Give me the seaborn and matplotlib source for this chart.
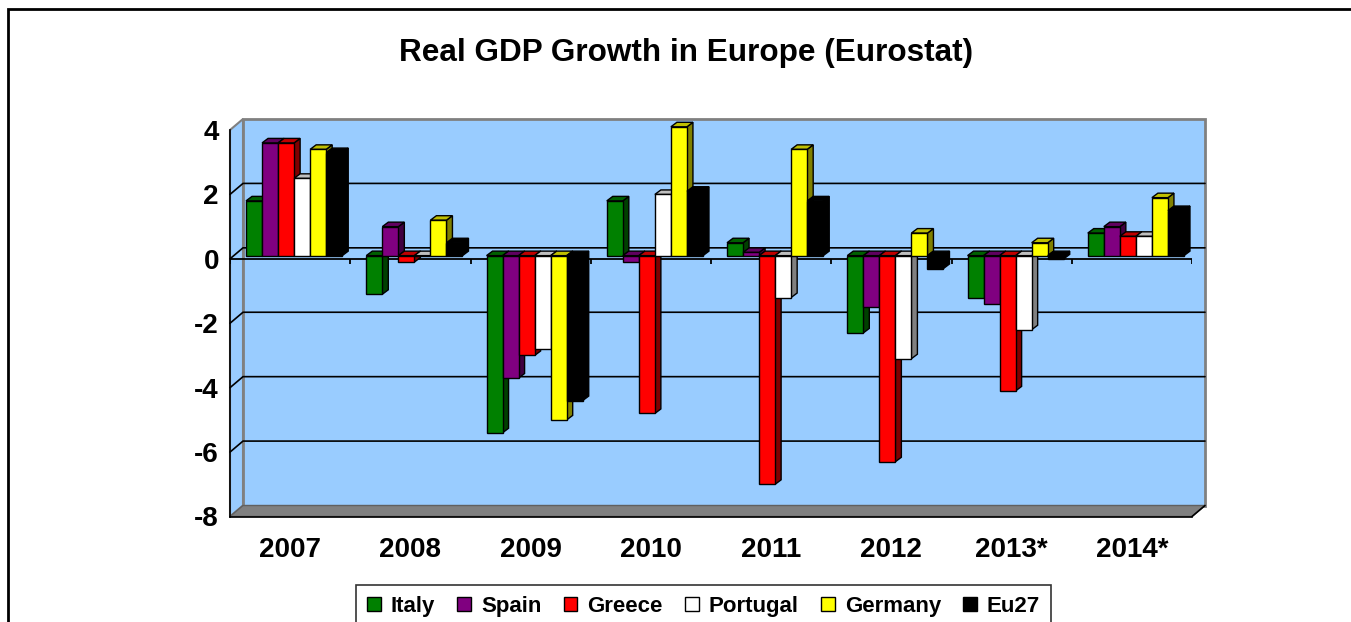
import numpy as np
import pandas as pd
import matplotlib
matplotlib.use("Agg")
import matplotlib.pyplot as plt
import matplotlib.transforms as mtransforms
from matplotlib.patches import Polygon, Rectangle, Patch
from matplotlib.colors import to_rgb
import seaborn as sns

# ---- data -------------------------------------------------------------
years = ["2007", "2008", "2009", "2010", "2011", "2012", "2013*", "2014*"]
countries = ["Italy", "Spain", "Greece", "Portugal", "Germany", "Eu27"]
italy = [1.7, -1.2, -5.5, 1.7, 0.4, -2.4, -1.3, 0.7]
spain = [3.5, 0.9, -3.8, -0.2, 0.1, -1.6, -1.5, 0.9]
greece = [3.5, -0.2, -3.1, -4.9, -7.1, -6.4, -4.2, 0.6]
portugal = [2.4, 0.0, -2.9, 1.9, -1.3, -3.2, -2.3, 0.6]
germany = [3.3, 1.1, -5.1, 4.0, 3.3, 0.7, 0.4, 1.8]
eu27 = [3.2, 0.4, -4.5, 2.0, 1.7, -0.4, -0.1, 1.4]
colors = ["#008000", "#800080", "#FF0000", "#FFFFFF", "#FFFF00", "#000000"]
y_ticks = [-8, -6, -4, -2, 0, 2, 4]
title = "Real GDP Growth in Europe (Eurostat)"

series = [italy, spain, greece, portugal, germany, eu27]
df = pd.DataFrame({
    "year": np.tile(years, len(countries)),
    "country": np.repeat(countries, len(years)),
    "value": np.concatenate(series),
})

# ---- style -------------------------------------------------------------
sns.set_style("white")
plt.rcParams["font.family"] = ["Liberation Sans", "DejaVu Sans"]
plt.rcParams["font.weight"] = "bold"
plt.rcParams["text.color"] = "black"
plt.rcParams["xtick.color"] = "black"
plt.rcParams["ytick.color"] = "black"

W, H, DPI = 1351, 622, 100
fig = plt.figure(figsize=(W / DPI, H / DPI), dpi=DPI)
fig.patch.set_facecolor("white")

# front plane of the 3-D box, in pixels
X0, X1 = 230, 1192
YT, YB = 130, 516.5
ax = fig.add_axes([X0 / W, (H - YB) / H, (X1 - X0) / W, (YB - YT) / H])
ax.patch.set_visible(False)

ymin, ymax = y_ticks[0], y_ticks[-1]
xlo, xhi = -0.5, len(years) - 0.5
ux = (xhi - xlo) / (X1 - X0)      # data units per pixel
uy = (ymax - ymin) / (YB - YT)

WALL_X, WALL_Y = 13 * ux, 11 * uy  # depth of the box
WALL = "#99CCFF"
GREY = "#808080"

# side wall, back wall, floor
ax.add_patch(Polygon([(xlo, ymin), (xlo, ymax), (xlo + WALL_X, ymax + WALL_Y),
                      (xlo + WALL_X, ymin + WALL_Y)], closed=True,
                     fc=WALL, ec=GREY, lw=1.5, zorder=0, clip_on=False))
ax.add_patch(Rectangle((xlo + WALL_X, ymin + WALL_Y), xhi - xlo, ymax - ymin,
                       fc=WALL, ec=GREY, lw=2, zorder=0, clip_on=False))
ax.add_patch(Polygon([(xlo, ymin), (xhi, ymin), (xhi + WALL_X, ymin + WALL_Y),
                      (xlo + WALL_X, ymin + WALL_Y)], closed=True,
                     fc=GREY, ec="#606060", lw=1, zorder=0.5, clip_on=False))
ax.plot([xhi, xhi + WALL_X], [ymin, ymin + WALL_Y], color="black", lw=1.2,
        zorder=0.6, clip_on=False)

# gridlines on the side and back walls
for yv in y_ticks[1:-1]:
    ax.plot([xlo, xlo + WALL_X, xhi + WALL_X], [yv, yv + WALL_Y, yv + WALL_Y],
            color="black", lw=1.2, zorder=1, clip_on=False)

# category axis crossing at zero, with boundary ticks
ax.axhline(0, color="black", lw=1.3, zorder=1.5)
bounds = np.arange(xlo, xhi + 0.01, 1.0)
ax.vlines(bounds, 0, -5 * uy, color="black", lw=1.3, zorder=1.5)

# ---- bars ---------------------------------------------------------------
sns.barplot(data=df, x="year", y="value", hue="country", order=years,
            hue_order=countries, palette=colors, saturation=1, width=0.8,
            edgecolor="black", linewidth=1, ax=ax, legend=False)

shift = ax.transData + mtransforms.ScaledTranslation(4 / DPI, 3.2 / DPI,
                                                     fig.dpi_scale_trans)
BX, BY = 6 * ux, 4.5 * uy   # bar depth


def shade(c, f):
    r, g, b = to_rgb(c)
    return (r * f, g * f, b * f)


for i, cont in enumerate(ax.containers):
    base_z = 10 + 3 * i
    for rect in cont:
        x, w = rect.get_x(), rect.get_width()
        y, h = rect.get_y(), rect.get_height()
        lo, hi = min(y, y + h), max(y, y + h)
        x1 = x + w
        side = Polygon([(x1, lo), (x1, hi), (x1 + BX, hi + BY), (x1 + BX, lo + BY)],
                       closed=True, fc=shade(colors[i], 0.5), ec="black", lw=1,
                       transform=shift, zorder=base_z, clip_on=False)
        top = Polygon([(x, hi), (x1, hi), (x1 + BX, hi + BY), (x + BX, hi + BY)],
                      closed=True, fc=shade(colors[i], 0.75), ec="black", lw=1,
                      transform=shift, zorder=base_z + 1, clip_on=False)
        ax.add_patch(side)
        ax.add_patch(top)
        rect.set_transform(shift)
        rect.set_zorder(base_z + 2)
        rect.set_clip_on(False)

# ---- axes ---------------------------------------------------------------
ax.set_xlim(xlo, xhi)
ax.set_ylim(ymin, ymax)
ax.set_xlabel("")
ax.set_ylabel("")
ax.set_yticks(y_ticks)
ax.set_yticklabels([str(v) for v in y_ticks])
ax.set_xticks(range(len(years)))
ax.set_xticklabels(years)
ax.set_xticks(bounds, minor=True)
ax.tick_params(axis="y", which="major", length=3, width=1.2, color="black",
               direction="out", pad=5, labelsize=20)
ax.tick_params(axis="x", which="major", length=0, pad=15, labelsize=20)
ax.tick_params(axis="x", which="minor", length=4, width=1.2, color="black",
               direction="out")
for lab in ax.get_xticklabels() + ax.get_yticklabels():
    lab.set_fontweight("bold")
    lab.set_color("black")
for s in ("top", "right"):
    ax.spines[s].set_visible(False)
for s in ("left", "bottom"):
    ax.spines[s].set_color("black")
    ax.spines[s].set_linewidth(1.2)
    ax.spines[s].set_zorder(2)

# ---- title, legend, chart border --------------------------------------
fig.text(686 / W, 1 - 53 / H, title, ha="center", va="center",
         fontsize=22.7, fontweight="bold", color="black")

handles = [Patch(fc=c, ec="black", lw=1) for c in colors]
leg = fig.legend(handles, countries, ncol=len(countries), loc="upper center",
                 bbox_to_anchor=(703.5 / W, 1 - 585 / H), frameon=True,
                 fancybox=False, edgecolor="black", fontsize=16,
                 handlelength=0.62, handleheight=0.62, handletextpad=0.45,
                 columnspacing=1.0, borderpad=0.5, borderaxespad=0)
leg.get_frame().set_linewidth(1.2)
for t in leg.get_texts():
    t.set_fontweight("bold")
    t.set_color("black")

fig.add_artist(Rectangle((8 / W, -0.5), 2, (H - 9) / H + 0.5,
                         transform=fig.transFigure, fill=False,
                         ec="black", lw=2))

fig.savefig("out.png", dpi=DPI)
